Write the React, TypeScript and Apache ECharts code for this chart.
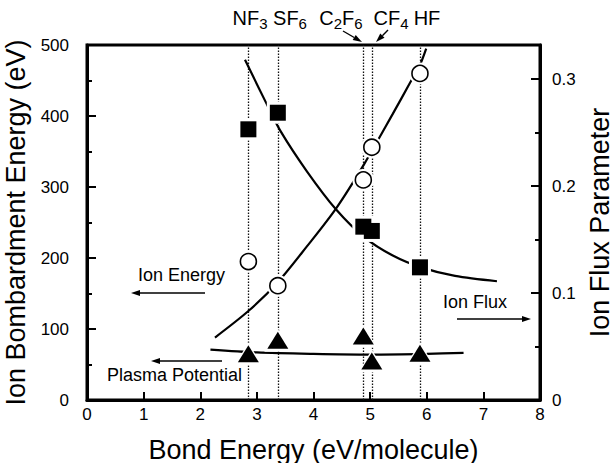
import React, { useEffect, useRef } from 'react';
import * as echarts from 'echarts';

// Measured gases and their bond energies (eV/molecule)
const gases = ['NF3', 'SF6', 'C2F6', 'CF4', 'HF'];
const bondEnergy = [2.85, 3.37, 4.88, 5.03, 5.88];
// Ion bombardment energy (eV) – open circles, left axis
const ionEnergy = [195, 161, 310, 356, 460];
// Ion flux parameter – filled squares, right axis
const ionFlux = [0.253, 0.2685, 0.162, 0.158, 0.124];
// Plasma potential (eV) – filled triangles, left axis
const plasmaPotential = [65, 84, 90, 55, 66];

// Hand-drawn trend curves: [bond energy, value]
const ionEnergyTrend = [
  [2.26, 88], [2.86, 126], [3.37, 166], [3.88, 216], [4.4, 270],
  [4.9, 333], [5.4, 403], [5.7, 446], [5.88, 472], [5.99, 495],
];
const ionFluxTrend = [
  [2.79, 0.318], [3.17, 0.277], [3.41, 0.252], [3.88, 0.214], [4.4, 0.178],
  [4.9, 0.152], [5.4, 0.135], [5.9, 0.124], [6.5, 0.116], [7.24, 0.111],
];
const plasmaTrend = [
  [2.18, 71], [3.0, 67], [4.0, 65], [5.0, 64], [6.0, 65], [6.65, 66.5],
];

// Gas name labels above the plot: [main text, subscript] pieces
const gasLabels: { parts: [string, string][]; cx: number }[] = [
  { parts: [['NF', '3']], cx: 250 },
  { parts: [['SF', '6']], cx: 290 },
  { parts: [['C', '2'], ['F', '6']], cx: 341 },
  { parts: [['CF', '4']], cx: 391 },
  { parts: [['HF', '']], cx: 427 },
];

const FONT = '"Liberation Sans", Arial, Helvetica, sans-serif';
const MAIN_SIZE = 20;
const SUB_SIZE = 15;

let measureCtx: CanvasRenderingContext2D | null = null;
function textWidth(text: string, size: number) {
  if (!measureCtx) measureCtx = document.createElement('canvas').getContext('2d');
  if (!measureCtx) return text.length * size * 0.6;
  measureCtx.font = `${size}px ${FONT}`;
  return measureCtx.measureText(text).width;
}

function arrow(x1: number, y1: number, x2: number, y2: number) {
  const ang = Math.atan2(y2 - y1, x2 - x1);
  const L = 9;
  const W = 3;
  const bx = x2 - L * Math.cos(ang);
  const by = y2 - L * Math.sin(ang);
  const px = -Math.sin(ang) * W;
  const py = Math.cos(ang) * W;
  return [
    { type: 'line', z: 10, shape: { x1, y1, x2: bx, y2: by }, style: { stroke: '#000', lineWidth: 1.4 } },
    {
      type: 'polygon', z: 10,
      shape: { points: [[x2, y2], [bx + px, by + py], [bx - px, by - py]] },
      style: { fill: '#000' },
    },
  ];
}

function note(text: string, x: number, y: number) {
  return {
    type: 'text', z: 10, x, y,
    style: { text, fontSize: 18, fontFamily: FONT, fill: '#000', align: 'left', verticalAlign: 'middle' },
  };
}

function gasLabel(parts: [string, string][], cx: number) {
  const total = parts.reduce(
    (w, [m, s]) => w + textWidth(m, MAIN_SIZE) + (s ? textWidth(s, SUB_SIZE) : 0), 0);
  let x = cx - total / 2;
  const out: any[] = [];
  parts.forEach(([m, s]) => {
    out.push({
      type: 'text', z: 10, x, y: 18,
      style: { text: m, fontSize: MAIN_SIZE, fontFamily: FONT, fill: '#000', align: 'left', verticalAlign: 'middle' },
    });
    x += textWidth(m, MAIN_SIZE);
    if (s) {
      out.push({
        type: 'text', z: 10, x, y: 23,
        style: { text: s, fontSize: SUB_SIZE, fontFamily: FONT, fill: '#000', align: 'left', verticalAlign: 'middle' },
      });
      x += textWidth(s, SUB_SIZE);
    }
  });
  return out;
}

const isTenth = (v: number) => Math.abs(v * 10 - Math.round(v * 10)) < 1e-6;

export default function App() {
  const ref = useRef<HTMLDivElement>(null);

  useEffect(() => {
    document.body.style.margin = '0';
    if (!ref.current) return;
    const chart = echarts.init(ref.current, null, { renderer: 'svg' });

    const pts = (ys: number[]) => bondEnergy.map((x, i) => [x, ys[i]]);
    const axisLine = { show: true, lineStyle: { color: '#000', width: 3 } };
    const tickStyle = { color: '#000', width: 2 };
    const labelStyle = { color: '#000', fontSize: 17, fontFamily: FONT };
    const nameStyle = { color: '#000', fontSize: 27, fontFamily: FONT };
    const trendLine = { color: '#000', width: 2.2 };

    chart.setOption({
      animation: false,
      grid: {
        left: 87, right: 74, top: 45, bottom: 63,
        show: true, borderColor: '#000', borderWidth: 3,
        outerBoundsMode: 'none',
      },
      xAxis: {
        type: 'value', min: 0, max: 8, interval: 1,
        axisLine,
        axisTick: { show: true, inside: true, length: 8, lineStyle: tickStyle },
        axisLabel: { ...labelStyle, margin: 6 },
        splitLine: { show: false },
        name: 'Bond Energy (eV/molecule)',
        nameLocation: 'middle', nameGap: 36, nameTextStyle: nameStyle,
      },
      yAxis: [
        {
          type: 'value', position: 'left', min: 0, max: 500, interval: 100,
          axisLine,
          axisTick: { show: true, inside: true, length: 9, lineStyle: tickStyle },
          minorTick: { show: true, splitNumber: 2, length: 5, lineStyle: tickStyle },
          axisLabel: { ...labelStyle, margin: 18 },
          splitLine: { show: false },
          minorSplitLine: { show: false },
          name: 'Ion Bombardment Energy (eV)',
          nameLocation: 'middle', nameRotate: 90, nameGap: 45, nameTextStyle: nameStyle,
        },
        {
          type: 'value', position: 'right', min: 0, max: 0.3318, interval: 0.05,
          axisLine,
          axisTick: { show: true, inside: true, length: 5, lineStyle: tickStyle },
          axisLabel: {
            ...labelStyle, margin: 12, showMaxLabel: false,
            formatter: (v: number) => (isTenth(v) ? (v === 0 ? '0' : v.toFixed(1)) : ''),
          },
          splitLine: { show: false },
          name: 'Ion Flux Parameter',
          nameLocation: 'middle', nameRotate: 90, nameGap: 44, nameTextStyle: nameStyle,
        },
        {
          // major ticks of the flux axis
          type: 'value', position: 'right', min: 0, max: 0.3318, interval: 0.1,
          axisLine: { show: false },
          axisTick: { show: true, inside: true, length: 9, lineStyle: tickStyle },
          axisLabel: { show: false },
          splitLine: { show: false },
        },
      ],
      series: [
        {
          // dotted guides at each gas's bond energy, kept beneath the markers
          type: 'line', data: [], silent: true, z: 1,
          markLine: {
            silent: true, z: 1, symbol: ['none', 'none'],
            label: { show: false },
            lineStyle: { color: '#111', width: 1.3, type: [1.5, 1.5] },
            data: bondEnergy.map((x) => ({ xAxis: x })),
          },
        },
        {
          type: 'line', yAxisIndex: 0, data: ionEnergyTrend, smooth: 0.3,
          showSymbol: false, lineStyle: trendLine, silent: true,
        },
        {
          type: 'line', yAxisIndex: 1, data: ionFluxTrend, smooth: 0.3,
          showSymbol: false, lineStyle: trendLine, silent: true,
        },
        {
          type: 'line', yAxisIndex: 0, data: plasmaTrend, smooth: 0.3,
          showSymbol: false, lineStyle: trendLine, silent: true,
        },
        // white halos that open small gaps in the curves around each marker
        {
          type: 'scatter', yAxisIndex: 0, data: pts(ionEnergy), symbol: 'circle', symbolSize: 22,
          itemStyle: { color: '#fff', opacity: 1 }, silent: true, z: 3,
        },
        {
          type: 'scatter', yAxisIndex: 1, data: pts(ionFlux), symbol: 'rect', symbolSize: 22,
          itemStyle: { color: '#fff', opacity: 1 }, silent: true, z: 3,
        },
        {
          type: 'scatter', yAxisIndex: 0, data: pts(plasmaPotential), symbol: 'triangle', symbolSize: [27, 23],
          itemStyle: { color: '#fff', opacity: 1 }, silent: true, z: 3,
        },
        {
          name: 'Ion Energy', type: 'scatter', yAxisIndex: 0, data: pts(ionEnergy),
          symbol: 'circle', symbolSize: 16, z: 4,
          itemStyle: { color: '#fff', borderColor: '#000', borderWidth: 1.6, opacity: 1 },
        },
        {
          name: 'Ion Flux', type: 'scatter', yAxisIndex: 1, data: pts(ionFlux),
          symbol: 'rect', symbolSize: 16, z: 4, itemStyle: { color: '#000', opacity: 1 },
        },
        {
          name: 'Plasma Potential', type: 'scatter', yAxisIndex: 0, data: pts(plasmaPotential),
          symbol: 'triangle', symbolSize: [21, 17], z: 4, itemStyle: { color: '#000', opacity: 1 },
        },
      ],
      graphic: [
        ...gasLabels.flatMap((g) => gasLabel(g.parts, g.cx)),
        ...arrow(343, 31, 362, 42),
        ...arrow(388, 30, 376, 42),
        note('Ion Energy', 138, 275),
        ...arrow(205, 293, 131, 293),
        note('Plasma Potential', 107, 375),
        ...arrow(222, 361, 151, 361),
        note('Ion Flux', 443, 302),
        ...arrow(457, 319, 531, 319),
      ],
    });

    return () => chart.dispose();
  }, []);

  return <div ref={ref} style={{ width: 614, height: 463 }} data-gases={gases.length} />;
}
